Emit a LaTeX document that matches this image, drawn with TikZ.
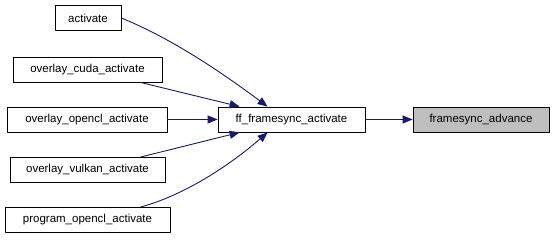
\documentclass[tikz,border=0pt]{standalone}
\usepackage{fontspec}
\setmainfont{Liberation Sans}
\usetikzlibrary{arrows.meta}
\definecolor{edgeblue}{HTML}{191970}
\definecolor{hilite}{HTML}{BFBFBF}
\begin{document}
\begin{tikzpicture}[x=1pt,y=-1pt,line join=round,
  >={Triangle[length=10pt,width=8pt]},font=\fontsize{11.5}{13}\selectfont,
  fn/.style={draw=black,line width=0.8pt,fill=white,inner sep=0pt,minimum height=25pt},
  call/.style={->,draw=edgeblue,line width=0.9pt}]
  \useasboundingbox[fill=white] (0,0) rectangle (555,240);
  % callers
  \node[fn,minimum width=66pt]  (act)    at (88,18)    {activate};
  \node[fn,minimum width=149pt] (cuda)   at (87.5,69.5) {overlay\_cuda\_activate};
  \node[fn,minimum width=160pt] (opencl) at (87,119.5) {overlay\_opencl\_activate};
  \node[fn,minimum width=155pt] (vulkan) at (87.5,170) {overlay\_vulkan\_activate};
  \node[fn,minimum width=165pt] (prog)   at (87.5,220) {program\_opencl\_activate};
  % callee chain
  \node[fn,minimum width=147pt] (ff)  at (291.5,119.5) {ff\_framesync\_activate};
  \node[fn,minimum width=136pt,fill=hilite] (adv) at (481,119.5) {framesync\_advance};
  \draw[call] (act.east) .. controls (175,40) and (225,75) .. ([xshift=50pt]ff.north west);
  \draw[call] ([xshift=-22pt]cuda.south east) -- ([xshift=22pt]ff.north west);
  \draw[call] (opencl.east) -- (ff.west);
  \draw[call] ([xshift=-25pt]vulkan.north east) -- ([xshift=22pt]ff.south west);
  \draw[call] ([xshift=-30pt]prog.north east) .. controls (185,195) and (230,165) .. ([xshift=50pt]ff.south west);
  \draw[call] (ff.east) -- (adv.west);
\end{tikzpicture}
\end{document}
